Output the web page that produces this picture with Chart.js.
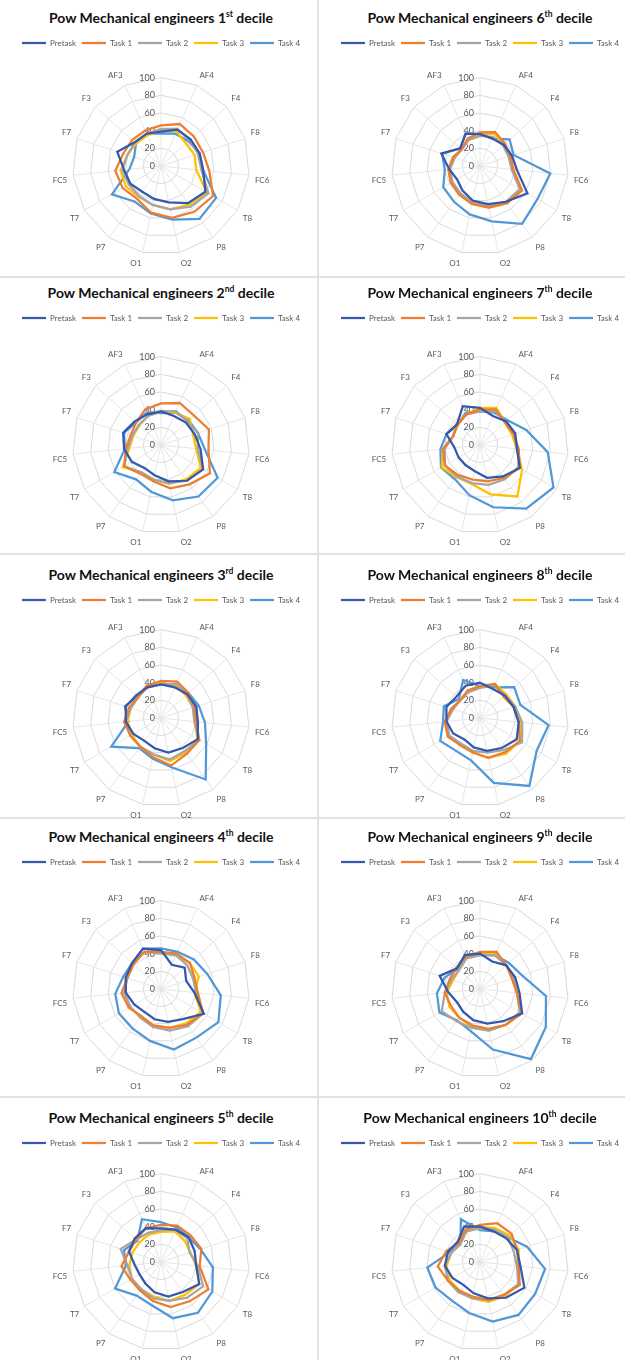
<!DOCTYPE html>
<html>
<head>
<meta charset="utf-8">
<script src="https://cdn.jsdelivr.net/npm/chart.js@4"></script>
<style>
  body { margin: 0; width: 625px; height: 1360px; background: #fff; position: relative; overflow: hidden; font-family: Lato, "Open Sans", sans-serif; }
  .title { position: absolute; width: 324px; text-align: center; font-weight: bold; font-size: 14px; line-height: 18px; color: #111; }
  .title sup { font-size: 8.5px; line-height: 0; }
  canvas { position: absolute; }
  .hline { position: absolute; left: 0; width: 625px; height: 2px; background: #e2e2e2; }
  .vline { position: absolute; top: 0; left: 317px; width: 2px; height: 1360px; background: #e2e2e2; }
</style>
</head>
<body>
<script>
// categories, clockwise from the top axis (first axis has no label)
const channels = ['', 'AF4', 'F4', 'F8', 'FC6', 'T8', 'P8', 'O2', 'O1', 'P7', 'T7', 'FC5', 'F7', 'F3', 'AF3'];
const seriesNames = ['Pretask', 'Task 1', 'Task 2', 'Task 3', 'Task 4'];
const seriesColors = ['#3358ad', '#ed7d31', '#a5a5a5', '#ffc000', '#5098d8'];
const tickValues = [0, 20, 40, 60, 80, 100];
const deciles = ['1', '2', '3', '4', '5', '6', '7', '8', '9', '10'];
const suffixes = ['st', 'nd', 'rd', 'th', 'th', 'th', 'th', 'th', 'th', 'th'];

// one row per decile (1st .. 10th)
const pretask = [
  [39, 45, 45, 46, 48, 58, 52, 42, 38, 36, 40, 42, 52, 40, 40],
  [38, 36, 38, 40, 45, 55, 50, 42, 35, 32, 38, 42, 45, 40, 38],
  [38, 38, 40, 42, 42, 48, 42, 40, 35, 32, 36, 40, 42, 38, 38],
  [44, 30, 36, 30, 38, 56, 42, 38, 35, 32, 35, 40, 42, 44, 50],
  [38, 40, 42, 40, 40, 50, 42, 40, 35, 30, 28, 30, 38, 40, 42],
  [36, 34, 36, 38, 42, 62, 50, 44, 40, 34, 30, 35, 46, 30, 40],
  [42, 36, 40, 42, 42, 52, 44, 38, 30, 28, 28, 29, 40, 35, 48],
  [40, 36, 38, 40, 44, 48, 42, 38, 34, 30, 35, 38, 40, 36, 40],
  [40, 34, 40, 42, 45, 55, 45, 40, 36, 32, 30, 36, 48, 35, 42],
  [40, 38, 40, 44, 46, 58, 50, 42, 36, 32, 36, 40, 38, 34, 44]
];
const task1 = [
  [46, 52, 50, 50, 55, 68, 64, 60, 54, 46, 50, 52, 45, 44, 44],
  [47, 52, 50, 57, 54, 64, 55, 50, 42, 40, 48, 40, 36, 38, 44],
  [42, 45, 42, 40, 40, 50, 50, 55, 45, 40, 40, 42, 38, 35, 40],
  [42, 44, 44, 40, 42, 55, 50, 45, 42, 38, 42, 45, 40, 42, 46],
  [42, 45, 45, 48, 44, 62, 55, 52, 45, 40, 40, 45, 38, 38, 42],
  [38, 42, 38, 36, 38, 55, 52, 48, 44, 40, 38, 36, 32, 28, 34],
  [40, 44, 38, 40, 44, 52, 46, 42, 40, 42, 46, 42, 32, 34, 38],
  [36, 42, 36, 40, 44, 52, 48, 46, 40, 38, 42, 40, 34, 30, 34],
  [42, 46, 40, 38, 42, 55, 50, 46, 42, 40, 38, 40, 36, 36, 40],
  [42, 48, 48, 44, 44, 52, 46, 44, 40, 40, 42, 48, 40, 32, 40]
];
const task2 = [
  [42, 46, 44, 44, 46, 62, 57, 50, 45, 42, 42, 44, 40, 40, 40],
  [38, 42, 40, 44, 42, 55, 50, 44, 40, 38, 48, 38, 34, 34, 36],
  [38, 42, 40, 38, 38, 50, 46, 48, 42, 40, 40, 40, 36, 35, 38],
  [40, 42, 40, 38, 40, 55, 52, 48, 44, 40, 40, 42, 40, 42, 46],
  [36, 40, 40, 34, 42, 55, 50, 45, 42, 38, 38, 38, 48, 38, 36],
  [34, 36, 35, 34, 36, 52, 50, 46, 42, 38, 36, 34, 30, 28, 32],
  [38, 42, 40, 40, 44, 50, 48, 46, 44, 44, 46, 40, 32, 34, 38],
  [34, 40, 38, 42, 48, 55, 45, 40, 38, 36, 40, 38, 32, 30, 32],
  [38, 42, 40, 40, 42, 52, 50, 48, 45, 45, 50, 40, 34, 32, 38],
  [38, 40, 42, 40, 42, 50, 46, 44, 42, 42, 42, 40, 34, 30, 38]
];
const task3 = [
  [40, 43, 38, 40, 40, 60, 54, 50, 45, 43, 46, 46, 40, 38, 38],
  [38, 40, 44, 38, 40, 52, 48, 45, 40, 38, 50, 36, 33, 33, 36],
  [40, 40, 38, 38, 38, 48, 48, 50, 42, 40, 38, 38, 36, 35, 38],
  [42, 42, 44, 45, 38, 52, 48, 45, 42, 38, 42, 40, 42, 44, 46],
  [34, 38, 36, 35, 40, 50, 46, 45, 40, 38, 38, 36, 34, 33, 34],
  [36, 40, 36, 38, 36, 54, 52, 48, 44, 40, 38, 36, 32, 28, 34],
  [42, 46, 38, 38, 42, 55, 72, 57, 45, 45, 50, 42, 32, 36, 38],
  [36, 42, 40, 42, 46, 52, 50, 46, 40, 38, 42, 40, 34, 30, 34],
  [40, 44, 40, 38, 42, 52, 50, 48, 44, 40, 40, 38, 32, 32, 38],
  [40, 42, 45, 46, 44, 50, 48, 46, 42, 40, 40, 38, 34, 30, 38]
];
const task4 = [
  [37, 40, 42, 46, 48, 72, 74, 62, 55, 50, 64, 36, 32, 38, 40],
  [36, 40, 42, 44, 50, 74, 72, 64, 54, 48, 61, 41, 44, 38, 40],
  [40, 40, 42, 45, 50, 59, 86, 57, 47, 42, 65, 37, 43, 36, 38],
  [46, 46, 50, 55, 68, 75, 68, 70, 60, 55, 55, 52, 45, 44, 50],
  [45, 43, 42, 47, 59, 67, 71, 65, 50, 47, 60, 40, 44, 36, 53],
  [36, 34, 45, 40, 80, 75, 81, 64, 56, 50, 48, 40, 45, 30, 40],
  [38, 40, 42, 55, 77, 96, 89, 72, 58, 48, 51, 45, 40, 34, 40],
  [36, 38, 52, 48, 78, 74, 95, 75, 49, 46, 52, 42, 43, 32, 47],
  [40, 42, 44, 50, 75, 86, 98, 70, 49, 44, 53, 49, 42, 34, 42],
  [36, 38, 42, 56, 74, 72, 74, 69, 59, 54, 58, 60, 36, 30, 53]
];
const allSeries = [pretask, task1, task2, task3, task4];

// page layout: title line and radar centre for each row
const titleYs = [18, 293, 575, 837, 1118];
const centerYs = [165, 444, 717, 988, 1261];
const colLefts = [-1, 318];
const separators = [276, 553, 817, 1096];

separators.forEach(y => {
  const d = document.createElement('div');
  d.className = 'hline';
  d.style.top = y + 'px';
  document.body.appendChild(d);
});
const v = document.createElement('div');
v.className = 'vline';
document.body.appendChild(v);

// tick labels drawn left of the top axis, like Excel does
const leftTicks = {
  id: 'leftTicks',
  beforeDatasetsDraw(chart) {
    const s = chart.scales.r;
    const ctx = chart.ctx;
    ctx.save();
    ctx.font = '9px Lato';
    ctx.fillStyle = '#595959';
    ctx.textAlign = 'right';
    ctx.textBaseline = 'middle';
    tickValues.forEach(t => {
      const p = s.getPointPositionForValue(0, t);
      ctx.fillText(String(t), p.x - 6, p.y);
    });
    ctx.restore();
  }
};

// extra space under the legend (can be negative)
const legendGap = {
  id: 'legendGap',
  beforeInit(chart, args, opts) {
    const fit = chart.legend.fit;
    chart.legend.fit = function () {
      fit.call(this);
      this.height += opts.extra || 0;
    };
  }
};

deciles.forEach((d, i) => {
  const row = i % 5;
  const left = colLefts[Math.floor(i / 5)];
  const titleY = titleYs[row];
  const offset = centerYs[row] - titleY;

  const title = document.createElement('div');
  title.className = 'title';
  title.style.left = left + 'px';
  title.style.top = (titleY - 9) + 'px';
  title.innerHTML = 'Pow Mechanical engineers ' + d + '<sup>' + suffixes[i] + '</sup> decile';
  document.body.appendChild(title);

  const canvas = document.createElement('canvas');
  canvas.width = 324;
  canvas.height = offset + 89;
  canvas.style.left = left + 'px';
  canvas.style.top = (titleY + 15) + 'px';
  document.body.appendChild(canvas);

  new Chart(canvas.getContext('2d'), {
    type: 'radar',
    data: {
      labels: channels,
      datasets: seriesNames.map((name, k) => ({
        label: name,
        data: allSeries[k][i],
        borderColor: seriesColors[k],
        backgroundColor: seriesColors[k],
        borderWidth: 2.25,
        pointRadius: 0,
        fill: false,
        tension: 0
      }))
    },
    options: {
      responsive: false,
      animation: false,
      devicePixelRatio: 1,
      layout: { padding: 0 },
      plugins: {
        tooltip: { enabled: false },
        legendGap: { extra: offset - 143 },
        legend: {
          position: 'top',
          labels: {
            usePointStyle: true,
            pointStyle: 'line',
            pointStyleWidth: 24,
            padding: 6,
            color: '#595959',
            font: { family: 'Lato', size: 8 }
          }
        }
      },
      scales: {
        r: {
          min: 0,
          max: 100,
          ticks: { stepSize: 20, display: false },
          grid: { color: '#d9d9d9', lineWidth: 1 },
          angleLines: { color: '#e6e6e6', lineWidth: 1 },
          pointLabels: { color: '#595959', padding: 6, font: { family: 'Lato', size: 8 } }
        }
      }
    },
    plugins: [leftTicks, legendGap]
  });
});
</script>
</body>
</html>
